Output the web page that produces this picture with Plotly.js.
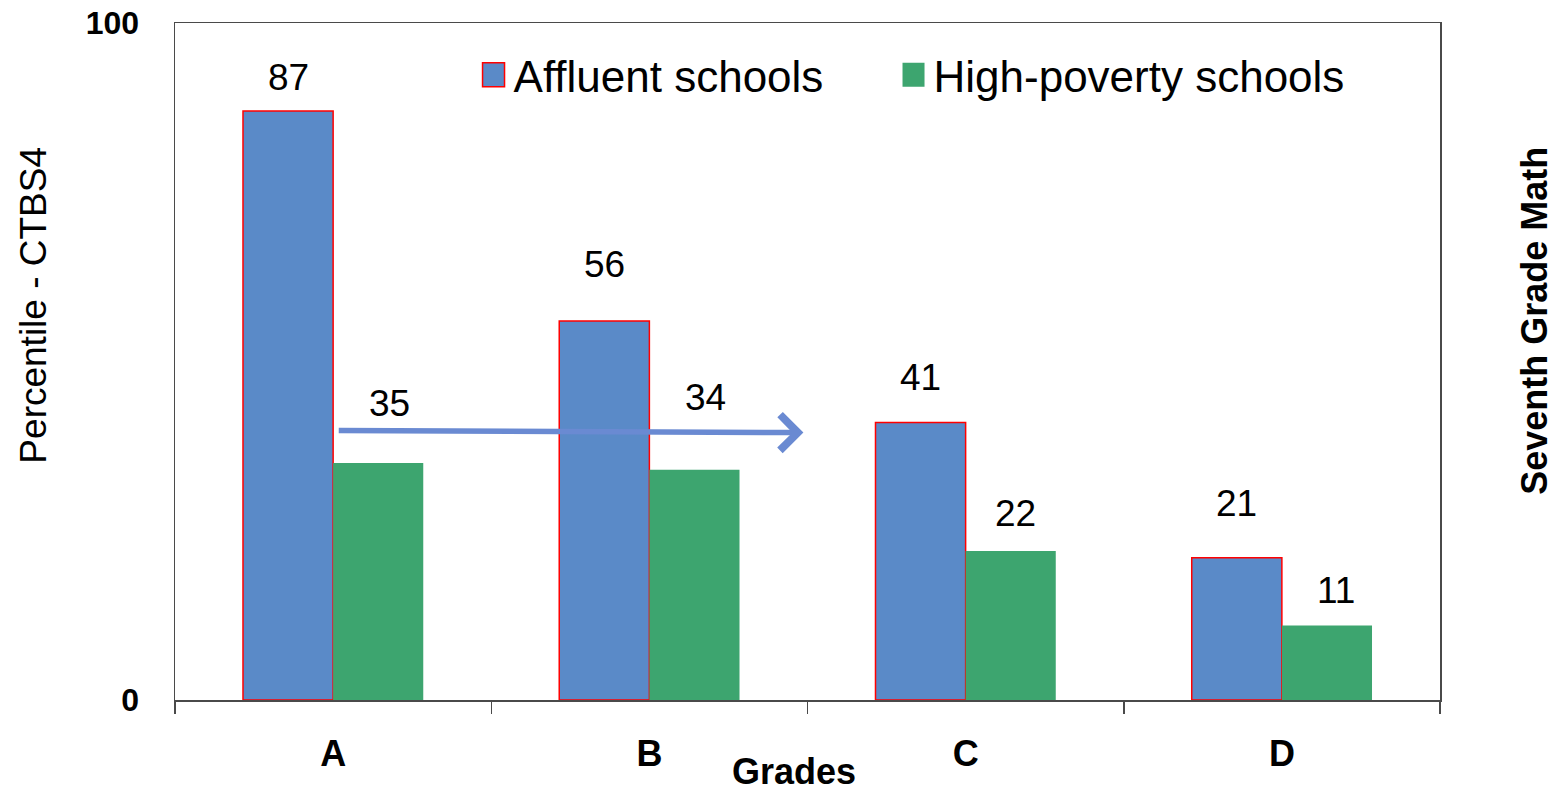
<!DOCTYPE html>
<html>
<head>
<meta charset="utf-8">
<script src="https://cdn.plot.ly/plotly-3.0.1.min.js"></script>
<style>
  html, body { margin: 0; padding: 0; background: #ffffff; }
  #chart { width: 1560px; height: 792px; }
</style>
</head>
<body>
<div id="chart"></div>
<script>
// ---- data ----
const categories = ['A', 'B', 'C', 'D'];
const affluent = [87, 56, 41, 21];
const highPoverty = [35, 34, 22, 11];
const seriesNames = ['Affluent schools', 'High-poverty schools'];
const yTickValues = [0, 100];
const yTickLabels = ['0', '100'];

// ---- styling ----
const FONT = 'Liberation Sans, Arial, sans-serif';
const BLUE = '#5A8AC8';
const GREEN = '#3DA56F';
const BARGAP = 0.43;

const traces = [
  {
    type: 'bar', name: seriesNames[0], x: categories, y: affluent,
    marker: { color: BLUE, line: { color: '#FF0000', width: 1.5 } },
    legend: 'legend', hoverinfo: 'x+y'
  },
  {
    type: 'bar', name: seriesNames[1], x: categories, y: highPoverty,
    marker: { color: GREEN, line: { width: 0 } },
    legend: 'legend2', hoverinfo: 'x+y'
  }
];

// value labels above bars (pixel lift of label centre above bar top)
const liftAff = [34, 56, 45, 54];
const liftPov = [60, 72, 38, 35];
const nudgePov = [11, 11, 5, 9];
const half = (1 - BARGAP) / 4;
const annotations = [];
categories.forEach((c, i) => {
  annotations.push({
    xref: 'x', yref: 'y', x: i - half, y: affluent[i], yshift: liftAff[i],
    text: String(affluent[i]), showarrow: false, yanchor: 'middle',
    font: { family: FONT, size: 37, color: '#000' }
  });
  annotations.push({
    xref: 'x', yref: 'y', x: i + half, y: highPoverty[i], yshift: liftPov[i], xshift: nudgePov[i],
    text: String(highPoverty[i]), showarrow: false, yanchor: 'middle',
    font: { family: FONT, size: 37, color: '#000' }
  });
});

// arrow
annotations.push({
  xref: 'x', yref: 'y', axref: 'x', ayref: 'y',
  x: 1.487, y: 39.5, ax: 0.013, ay: 39.8,
  text: '', showarrow: true, arrowhead: 4, arrowsize: 1.25, arrowwidth: 5.5,
  arrowcolor: '#6A8AD2'
});

// x title
annotations.push({
  xref: 'paper', yref: 'paper', x: 0.489, y: -0.106, yanchor: 'middle', xanchor: 'center',
  text: 'Grades', showarrow: false,
  font: { family: FONT, size: 36, color: '#000', weight: 'bold' }
});

// left title
annotations.push({
  xref: 'paper', yref: 'paper', x: -0.112, y: 0.583, xanchor: 'center', yanchor: 'middle',
  text: 'Percentile - CTBS4', textangle: -90, showarrow: false,
  font: { family: FONT, size: 37, color: '#000' }
});

// right title
annotations.push({
  xref: 'paper', yref: 'paper', x: 1.075, y: 0.56, xanchor: 'center', yanchor: 'middle',
  text: 'Seventh Grade Math', textangle: -90, showarrow: false,
  font: { family: FONT, size: 36, color: '#000', weight: 'bold' }
});

const legendBase = {
  orientation: 'h', xanchor: 'left', yanchor: 'middle', y: 0.923,
  font: { family: FONT, size: 44, color: '#000' },
  bgcolor: 'rgba(0,0,0,0)', itemwidth: 30
};

const layout = {
  width: 1560, height: 792,
  margin: { l: 175, r: 120, t: 23, b: 92, pad: 0 },
  paper_bgcolor: '#ffffff', plot_bgcolor: '#ffffff',
  barmode: 'group', bargap: BARGAP, bargroupgap: 0,
  font: { family: FONT, color: '#000' },
  showlegend: true,
  legend: Object.assign({}, legendBase, { x: 0.236 }),
  legend2: Object.assign({}, legendBase, { x: 0.568 }),
  xaxis: {
    type: 'category', range: [-0.5, 3.5],
    showline: true, mirror: true, linecolor: '#4a4a4a', linewidth: 1.5,
    ticks: 'outside', tickson: 'boundaries', ticklen: 12, tickcolor: '#4a4a4a', tickwidth: 1.5,
    tickfont: { family: FONT, size: 36, color: '#000', weight: 'bold' },
    ticklabelstandoff: 21,
    showgrid: false, zeroline: false, automargin: false, fixedrange: true
  },
  yaxis: {
    range: [0, 100], tickvals: yTickValues, ticktext: yTickLabels,
    showline: true, mirror: true, linecolor: '#4a4a4a', linewidth: 1.5,
    ticks: '', showgrid: false, zeroline: false,
    tickfont: { family: FONT, size: 32, color: '#000', weight: 'bold' },
    ticklabelstandoff: 28,
    automargin: false, fixedrange: true
  },
  annotations: annotations
};

Plotly.newPlot('chart', traces, layout, { displayModeBar: false, staticPlot: true }).then(() => {
  document.querySelectorAll('.legendpoints path').forEach(p => {
    p.setAttribute('d', 'M11,12H-11V-12H11Z');
  });
});
</script>
</body>
</html>
